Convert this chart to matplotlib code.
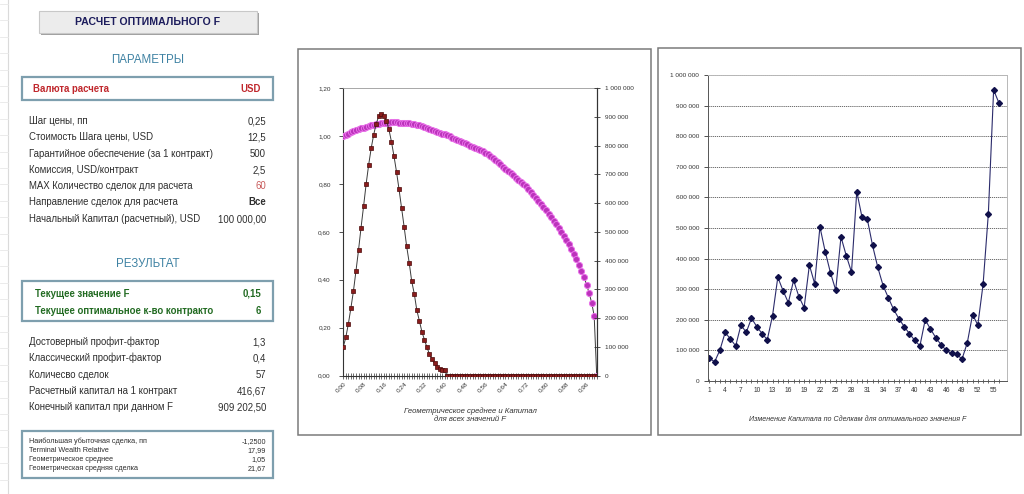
import numpy as np
import matplotlib.pyplot as plt
from matplotlib.patches import Rectangle
from matplotlib.ticker import FuncFormatter, MultipleLocator, FixedLocator

plt.rcParams['font.family'] = ['Liberation Sans', 'DejaVu Sans']

# ---------- данные ----------
# значения F (категории левого графика)
f_values = np.round(np.arange(0, 101) * 0.01, 2)

# геометрическое среднее для каждого F (левая ось)
geo_mean = [
    1.000, 1.006, 1.011, 1.016, 1.021, 1.026, 1.030, 1.033, 1.036, 1.039,
    1.042, 1.045, 1.047, 1.049, 1.051, 1.053, 1.055, 1.056, 1.057, 1.058,
    1.058, 1.058, 1.057, 1.057, 1.056, 1.055, 1.054, 1.052, 1.050, 1.048,
    1.045, 1.042, 1.039, 1.035, 1.031, 1.027, 1.023, 1.019, 1.015, 1.011,
    1.007, 1.003, 0.999, 0.994, 0.990, 0.985, 0.980, 0.976, 0.971, 0.966,
    0.961, 0.956, 0.951, 0.946, 0.941, 0.936, 0.931, 0.924, 0.916, 0.908,
    0.900, 0.891, 0.882, 0.873, 0.863, 0.854, 0.845, 0.836, 0.827, 0.818,
    0.809, 0.800, 0.790, 0.778, 0.766, 0.754, 0.742, 0.730, 0.717, 0.704,
    0.690, 0.676, 0.662, 0.647, 0.632, 0.617, 0.601, 0.584, 0.567, 0.548,
    0.528, 0.507, 0.485, 0.462, 0.437, 0.410, 0.380, 0.345, 0.305, 0.250,
    0.000,
]

# итоговый капитал для каждого F (правая ось)
capital_f = [
    100000, 133000, 180000, 235000, 294000, 364000, 436000, 515000, 589000, 666000,
    733000, 791000, 839000, 877000, 903000, 909202, 905000, 886000, 857000, 814000,
    764000, 709000, 648000, 583000, 518000, 450000, 393000, 328000, 285000, 228000,
    191000, 153000, 125000, 98000, 75000, 57000, 42000, 31000, 23000, 19000,
    18000, 0, 0, 0, 0, 0, 0, 0, 0, 0,
    0, 0, 0, 0, 0, 0, 0, 0, 0, 0,
    0, 0, 0, 0, 0, 0, 0, 0, 0, 0,
    0, 0, 0, 0, 0, 0, 0, 0, 0, 0,
    0, 0, 0, 0, 0, 0, 0, 0, 0, 0,
    0, 0, 0, 0, 0, 0, 0, 0, 0, 0,
    0,
]

# капитал по сделкам при оптимальном F
trade_capital = [
    74000, 63000, 101000, 159000, 137000, 115000, 183000, 159000, 205000, 178000,
    155000, 135000, 214000, 339000, 295000, 256000, 329000, 276000, 240000, 379000,
    318000, 504000, 423000, 354000, 297000, 471000, 410000, 356000, 619000, 535000,
    529000, 443000, 371000, 312000, 272000, 234000, 204000, 178000, 155000, 133000,
    115000, 200000, 170000, 142000, 119000, 100000, 90000, 87000, 72000, 125000,
    217000, 183000, 316000, 547000, 951000, 909202,
]
trade_no = np.arange(1, len(trade_capital) + 1)

params = [
    ("Шаг цены, пп", "0,25"),
    ("Стоимость Шага цены, USD", "12,5"),
    ("Гарантийное обеспечение (за 1 контракт)", "500"),
    ("Комиссия, USD/контракт", "2,5"),
    ("MAX Количество сделок для расчета", "60"),
    ("Направление сделок для расчета", "Все"),
    ("Начальный Капитал (расчетный), USD", "100 000,00"),
]
results = [
    ("Достоверный профит-фактор", "1,3"),
    ("Классический профит-фактор", "0,4"),
    ("Количесво сделок", "57"),
    ("Расчетный капитал на 1 контракт", "416,67"),
    ("Конечный капитал при данном F", "909 202,50"),
]
extra = [
    ("Наибольшая убыточная сделка, пп", "-1,2500"),
    ("Terminal Wealth Relative", "17,99"),
    ("Геометрическое среднее", "1,05"),
    ("Геометрическая средняя сделка", "21,67"),
]

# ---------- фигура ----------
W, H = 1024, 494
fig = plt.figure(figsize=(W / 100, H / 100), dpi=100)
fig.patch.set_facecolor('white')

bg = fig.add_axes([0, 0, 1, 1])
bg.set_xlim(0, W)
bg.set_ylim(H, 0)
bg.axis('off')


def px_axes(x0, y0, x1, y1):
    return fig.add_axes([x0 / W, 1 - y1 / H, (x1 - x0) / W, (y1 - y0) / H])


# полоска сетки листа слева
bg.plot([8, 8], [0, H], color='#dadada', lw=0.8)
for yy in np.arange(4, H, 16.4):
    bg.plot([0, 8], [yy, yy], color='#e8e8e8', lw=0.6)

# кнопка-заголовок
bg.add_patch(Rectangle((41, 13), 218, 22, facecolor='#a0a0a0', edgecolor='none'))
bg.add_patch(Rectangle((39, 11), 218, 22, facecolor='#ececec', edgecolor='#c8c8c8', lw=0.8))
bg.text(148, 22, "РАСЧЕТ ОПТИМАЛЬНОГО F", ha='center', va='center',
        fontsize=7.6, fontweight='bold', color='#1c1c5c')

teal = '#3f82a3'
box_col = '#7e9fae'
txt_col = '#2e2e2e'

bg.text(148, 60, "ПАРАМЕТРЫ", ha='center', va='center', fontsize=8.3, color=teal)
bg.add_patch(Rectangle((22, 77.5), 251, 23, facecolor='white', edgecolor=box_col, lw=1.6))
bg.text(33, 89, "Валюта расчета", ha='left', va='center', fontsize=6.9,
        fontweight='bold', color='#c0282d')
bg.text(261, 89, "USD", ha='right', va='center', fontsize=6.9,
        fontweight='bold', color='#c0282d')

row_y = [121, 137, 154, 170, 186, 202, 219]
for (lab, val), yy in zip(params, row_y):
    bg.text(29, yy, lab, ha='left', va='center', fontsize=6.9, color=txt_col)
    col = '#c85a5a' if val == "60" else txt_col
    wt = 'bold' if val == "Все" else 'normal'
    bg.text(266, yy, val, ha='right', va='center', fontsize=6.9, color=col, fontweight=wt)

bg.text(148, 264, "РЕЗУЛЬТАТ", ha='center', va='center', fontsize=8.3, color=teal)
bg.add_patch(Rectangle((22, 281), 251, 40, facecolor='white', edgecolor=box_col, lw=1.6))
green = '#226b22'
bg.text(35, 293.5, "Текущее значение F", ha='left', va='center', fontsize=6.9,
        fontweight='bold', color=green)
bg.text(261, 293.5, "0,15", ha='right', va='center', fontsize=6.9,
        fontweight='bold', color=green)
t = bg.text(35, 310.5, "Текущее оптимальное к-во контрактов", ha='left', va='center',
            fontsize=6.9, fontweight='bold', color=green)
clip = Rectangle((22, 281), 191, 40, transform=bg.transData, facecolor='none', edgecolor='none')
bg.add_patch(clip)
t.set_clip_on(True)
t.set_clip_path(clip)
bg.text(261, 310.5, "6", ha='right', va='center', fontsize=6.9,
        fontweight='bold', color=green)

res_y = [342, 358, 375, 391, 407]
for (lab, val), yy in zip(results, res_y):
    bg.text(29, yy, lab, ha='left', va='center', fontsize=6.9, color=txt_col)
    bg.text(266, yy, val, ha='right', va='center', fontsize=6.9, color=txt_col)

bg.add_patch(Rectangle((22, 431), 251, 47, facecolor='white', edgecolor=box_col, lw=1.6))
ext_y = [441.7, 450.7, 459.7, 468.7]
for (lab, val), yy in zip(extra, ext_y):
    bg.text(29, yy, lab, ha='left', va='center', fontsize=5.2, color=txt_col)
    bg.text(266, yy, val, ha='right', va='center', fontsize=5.2, color=txt_col)

# рамки графиков
bg.add_patch(Rectangle((298, 49), 353, 386, facecolor='white', edgecolor='#7a7a7a', lw=1.1))
bg.add_patch(Rectangle((658, 48), 363, 387, facecolor='white', edgecolor='#7a7a7a', lw=1.1))

# ---------- левый график ----------
ax1 = px_axes(343.3, 88.3, 596.7, 375.5)
ax1.patch.set_alpha(0)
ax1.plot(f_values, geo_mean, color='#3a3a3a', lw=0.7, marker='o', markersize=4.4,
         markerfacecolor='#bb33bb', markeredgecolor='#e870e8', markeredgewidth=0.7, zorder=3)
ax1.set_xlim(0, 1.0)
ax1.set_ylim(0, 1.2)
ax1.yaxis.set_major_locator(MultipleLocator(0.2))
ax1.yaxis.set_major_formatter(FuncFormatter(lambda v, p: f"{v:.2f}".replace(".", ",")))
ax1.xaxis.set_major_locator(FixedLocator(f_values[::8]))
ax1.xaxis.set_minor_locator(FixedLocator(f_values))
ax1.xaxis.set_major_formatter(FuncFormatter(lambda v, p: f"{v:.2f}".replace(".", ",")))
ax1.tick_params(axis='y', direction='out', length=3, width=0.6, labelsize=4.6,
                colors='#333333', pad=6)
ax1.tick_params(axis='x', which='both', direction='inout', length=4, width=0.5,
                labelsize=4.6, colors='#333333', pad=2)
for lab in ax1.get_xticklabels():
    lab.set_rotation(45)
    lab.set_ha('right')
    lab.set_va('top')
    lab.set_rotation_mode('anchor')
for s in ['left', 'bottom', 'right']:
    ax1.spines[s].set_color('#333333')
    ax1.spines[s].set_linewidth(0.8)
ax1.spines['top'].set_color('#999999')
ax1.spines['top'].set_linewidth(0.6)
ax1.set_xlabel("Геометрическое среднее и Капитал\nдля всех значений F", fontsize=5.6,
               style='italic', color='#333333', labelpad=10, linespacing=1.1)

ax2 = ax1.twinx()
ax2.plot(f_values, capital_f, color='#3a3a3a', lw=0.7, marker='s', markersize=3.3,
         markerfacecolor='#8a1c1c', markeredgecolor='#4a0a0a', markeredgewidth=0.5)
ax2.set_ylim(0, 1000000)
ax2.yaxis.set_major_locator(MultipleLocator(100000))
ax2.yaxis.set_major_formatter(FuncFormatter(lambda v, p: f"{v:,.0f}".replace(",", " ")))
ax2.tick_params(axis='y', direction='inout', length=4, width=0.6, labelsize=4.6,
                colors='#333333', pad=4)
ax2.spines['right'].set_color('#333333')
ax2.spines['right'].set_linewidth(0.8)
for s in ['left', 'top', 'bottom']:
    ax2.spines[s].set_visible(False)

# ---------- правый график ----------
ax3 = px_axes(707.7, 75, 1007.3, 381)
ax3.patch.set_alpha(0)
ax3.plot(trade_no, trade_capital, color='#2b2b6b', lw=0.8, marker='D', markersize=3.0,
         markerfacecolor='#10104a', markeredgecolor='#10104a')
ax3.set_xlim(0.68, 57.6)
ax3.set_ylim(0, 1000000)
ax3.yaxis.set_major_locator(MultipleLocator(100000))
ax3.yaxis.set_major_formatter(FuncFormatter(lambda v, p: f"{v:,.0f}".replace(",", " ")))
ax3.xaxis.set_major_locator(FixedLocator(trade_no[::3]))
ax3.xaxis.set_minor_locator(FixedLocator(trade_no))
ax3.grid(axis='y', color='#555555', linestyle=(0, (1.5, 1)), linewidth=0.6)
ax3.set_axisbelow(True)
ax3.tick_params(axis='y', direction='out', length=3, width=0.6, labelsize=4.6,
                colors='#333333', pad=3)
ax3.tick_params(axis='x', which='both', direction='inout', length=3, width=0.5,
                labelsize=4.8, colors='#333333', pad=3)
ax3.spines['left'].set_color('#555555')
ax3.spines['bottom'].set_color('#555555')
ax3.spines['top'].set_color('#b8b8b8')
ax3.spines['right'].set_color('#b8b8b8')
for s in ax3.spines.values():
    s.set_linewidth(0.7)
ax3.set_xlabel("Изменение Капитала по Сделкам для оптимального значения F", fontsize=5.1,
               style='italic', color='#333333', labelpad=16)

fig.savefig("out.png", dpi=100, facecolor='white')
